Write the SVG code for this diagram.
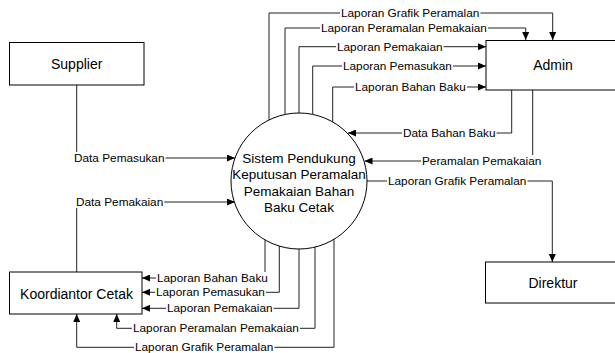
<svg xmlns="http://www.w3.org/2000/svg" width="615" height="353" viewBox="0 0 615 353">
<style>
.box{fill:#fff;stroke:#000;stroke-width:1}
.nt{font-family:"Liberation Sans",Arial,sans-serif;font-size:14px;fill:#000;text-anchor:middle}
.ct{font-family:"Liberation Sans",Arial,sans-serif;font-size:13.5px;fill:#000;text-anchor:middle}
.ln{fill:none;stroke:#222;stroke-width:1}
.lb{font-family:"Liberation Sans",Arial,sans-serif;font-size:11.8px;fill:#000}
.bg{fill:#fff}
</style>
<defs>
<marker id="ah" markerUnits="userSpaceOnUse" markerWidth="8" markerHeight="7" refX="8" refY="3.5" orient="auto">
<path d="M0,0 L8,3.5 L0,7 z" fill="#000"/>
</marker>
</defs>
<rect width="615" height="353" fill="#fff"/>
<g id="connectors">
<!-- to Admin -->
<path class="ln" d="M269,120 V13 H552.7 V40" marker-end="url(#ah)"/>
<path class="ln" d="M285,114.5 V28 H525.7 V40" marker-end="url(#ah)"/>
<path class="ln" d="M299,113 V46.7 H486" marker-end="url(#ah)"/>
<path class="ln" d="M312.7,114.4 V66 H486" marker-end="url(#ah)"/>
<path class="ln" d="M332.7,122 V87 H486" marker-end="url(#ah)"/>
<!-- from Admin -->
<path class="ln" d="M511.7,90 V133 H348" marker-end="url(#ah)"/>
<path class="ln" d="M532.7,90 V161 H364.5" marker-end="url(#ah)"/>
<!-- to Direktur -->
<path class="ln" d="M367,181 H552.3 V262" marker-end="url(#ah)"/>
<!-- from Supplier / Koordiantor -->
<path class="ln" d="M76.7,85 V158 H235" marker-end="url(#ah)"/>
<path class="ln" d="M76.7,272 V202 H235" marker-end="url(#ah)"/>
<!-- to Koordiantor -->
<path class="ln" d="M265,240 V278 H142" marker-end="url(#ah)"/>
<path class="ln" d="M279.3,246 V292.3 H142" marker-end="url(#ah)"/>
<path class="ln" d="M299,249 V308.3 H142" marker-end="url(#ah)"/>
<path class="ln" d="M315,247 V328.3 H116.7 V314" marker-end="url(#ah)"/>
<path class="ln" d="M334,239 V347.3 H76.7 V314" marker-end="url(#ah)"/>
</g>
<g id="labels">
<rect class="bg" x="340" y="7" width="140.5" height="12"/>
<text class="lb" x="341" y="17">Laporan Grafik Peramalan</text>
<rect class="bg" x="320" y="22" width="168" height="12"/>
<text class="lb" x="321" y="32">Laporan Peramalan Pemakaian</text>
<rect class="bg" x="336" y="40.7" width="107.6" height="12"/>
<text class="lb" x="337" y="50.7">Laporan Pemakaian</text>
<rect class="bg" x="342" y="60" width="111" height="12"/>
<text class="lb" x="343" y="70">Laporan Pemasukan</text>
<rect class="bg" x="354" y="81" width="113" height="12"/>
<text class="lb" x="355" y="91">Laporan Bahan Baku</text>
<rect class="bg" x="402" y="127" width="94.5" height="12"/>
<text class="lb" x="403" y="137">Data Bahan Baku</text>
<rect class="bg" x="421" y="155" width="121.4" height="12"/>
<text class="lb" x="422" y="165">Peramalan Pemakaian</text>
<rect class="bg" x="387" y="175" width="140.5" height="12"/>
<text class="lb" x="388" y="185">Laporan Grafik Peramalan</text>
<rect class="bg" x="73" y="152" width="92.5" height="12"/>
<text class="lb" x="74" y="162">Data Pemasukan</text>
<rect class="bg" x="75" y="196" width="89.2" height="12"/>
<text class="lb" x="76" y="206">Data Pemakaian</text>
<rect class="bg" x="156" y="272" width="113" height="12"/>
<text class="lb" x="157" y="282">Laporan Bahan Baku</text>
<rect class="bg" x="155" y="286.3" width="111" height="12"/>
<text class="lb" x="156" y="296.3">Laporan Pemasukan</text>
<rect class="bg" x="166" y="302.3" width="107.6" height="12"/>
<text class="lb" x="167" y="312.3">Laporan Pemakaian</text>
<rect class="bg" x="132" y="322.3" width="168" height="12"/>
<text class="lb" x="133" y="332.3">Laporan Peramalan Pemakaian</text>
<rect class="bg" x="134" y="341.3" width="140.5" height="12"/>
<text class="lb" x="135" y="351.3">Laporan Grafik Peramalan</text>
</g>
<g id="supplier">
<rect class="box" x="9.5" y="42.5" width="134.5" height="42.5"/>
<text class="nt" x="76.7" y="68.5">Supplier</text>
</g>
<g id="admin">
<rect class="box" x="486" y="40.5" width="135" height="49.5"/>
<text class="nt" x="553" y="70">Admin</text>
</g>
<g id="direktur">
<rect class="box" x="485.5" y="262" width="135" height="41"/>
<text class="nt" x="553" y="288">Direktur</text>
</g>
<g id="koordiantor">
<rect class="box" x="9.5" y="272" width="132.5" height="42"/>
<text class="nt" x="76.5" y="298.5">Koordiantor Cetak</text>
</g>
<g id="sistem">
<circle cx="299" cy="181" r="68" fill="#fff" stroke="#000" stroke-width="1"/>
<text class="ct" x="299" y="163">Sistem Pendukung</text>
<text class="ct" x="299" y="179">Keputusan Peramalan</text>
<text class="ct" x="299" y="195.5">Pemakaian Bahan</text>
<text class="ct" x="299" y="212">Baku Cetak</text>
</g>
</svg>
